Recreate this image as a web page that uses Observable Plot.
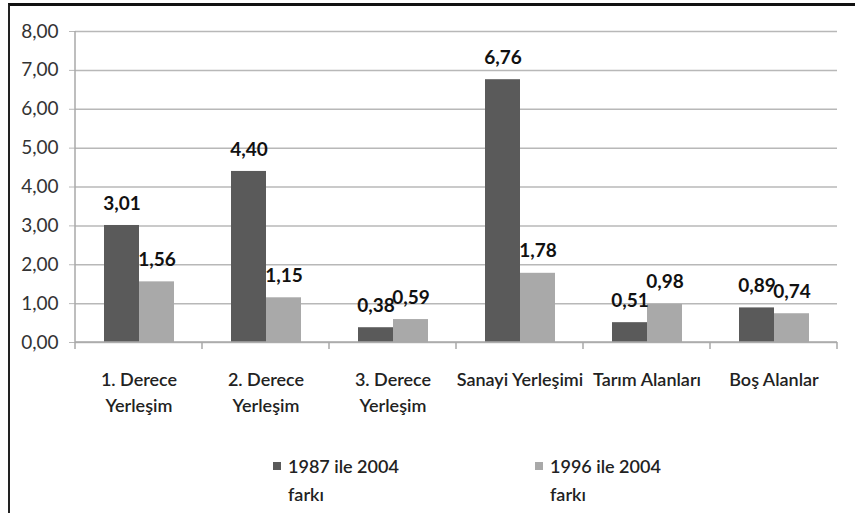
<!DOCTYPE html>
<html><head><meta charset="utf-8">
<script src="https://cdn.jsdelivr.net/npm/d3@7"></script>
<script src="https://cdn.jsdelivr.net/npm/@observablehq/plot@0.6"></script>
<style>
body{margin:0;background:#fff;font-family:Lato,sans-serif;}
#frame{position:absolute;left:8px;top:3px;width:847px;height:510px;border-top:3px solid #111;border-left:2px solid #222;box-sizing:border-box;}
#chart{position:absolute;left:0;top:0;}
.item{position:absolute;display:flex;align-items:flex-start;font-size:18px;font-weight:600;color:#222;line-height:28px;}
.sw{width:8px;height:8px;margin-top:10px;margin-right:7px;flex:none;}
.lt{width:122px;}
</style></head>
<body>
<div id="frame"><div id="chart"></div></div>
<script>
const categories = ["1. Derece\nYerleşim","2. Derece\nYerleşim","3. Derece\nYerleşim","Sanayi Yerleşimi","Tarım Alanları","Boş Alanlar"];
const series = ["1987 ile 2004 farkı","1996 ile 2004 farkı"];
const values1987 = [3.01,4.40,0.38,6.76,0.51,0.89];
const values1996 = [1.56,1.15,0.59,1.78,0.98,0.74];
const yTicks = [0,1,2,3,4,5,6,7,8];
const colors = ["#5a5a5a","#a9a9a9"];

const data = categories.flatMap((c,i)=>[
  {category:c, series:series[0], value:values1987[i]},
  {category:c, series:series[1], value:values1996[i]}
]);
const fmt = d => d.toFixed(2).replace(".", ",");

const chart = Plot.plot({
  width:845, height:430, marginLeft:62, marginRight:16, marginTop:25, marginBottom:94,
  style:{fontFamily:"Lato, sans-serif", background:"white", overflow:"visible"},
  fx:{domain:categories, padding:0, label:null},
  x:{domain:series, paddingInner:0, paddingOuter:0.78, axis:null},
  y:{domain:[0,8], label:null},
  color:{domain:series, range:colors},
  marks:[
    Plot.gridY(yTicks,{stroke:"#b8b8b8", strokeOpacity:1, strokeWidth:1.5}),
    Plot.axisY(yTicks,{tickFormat:fmt, tickSize:6, tickPadding:11, stroke:"#b8b8b8", fill:"#333", fontSize:19, label:null}),
    Plot.axisFx({anchor:"bottom", tickSize:0, tickPadding:25, fontSize:18, fontWeight:600, fill:"#222", lineHeight:1.45, label:null}),
    Plot.barY(data,{fx:"category", x:"series", y:"value", fill:"series"}),
    Plot.text(data,{fx:"category", x:"series", y:"value", text:d=>fmt(d.value), dy:-22, fontSize:19, fontWeight:"bold", fill:"#111"})
  ]
});
document.getElementById("chart").appendChild(chart);

// category boundary ticks and y axis line (Excel style)
const fx = chart.scale("fx"), ys = chart.scale("y");
const y0 = ys.apply(0), yTop = ys.apply(yTicks[yTicks.length-1]);
const bounds = categories.map(c=>fx.apply(c)).concat([fx.apply(categories[categories.length-1]) + fx.bandwidth]);
const svg = d3.select(chart);
const g = svg.append("g").attr("stroke","#a8a8a8").attr("stroke-width",1.5);
g.append("line").attr("x1",bounds[0]).attr("x2",bounds[0]).attr("y1",yTop).attr("y2",y0);
g.append("line").attr("x1",bounds[0]).attr("x2",bounds[bounds.length-1]).attr("y1",y0).attr("y2",y0);
bounds.forEach(b=>g.append("line").attr("x1",b).attr("x2",b).attr("y1",y0).attr("y2",y0+7));

// legend
const frame = document.getElementById("frame");
const legendPos = [263, 525];
series.forEach((s,i)=>{
  const it = document.createElement("div");
  it.className = "item";
  it.style.left = legendPos[i] + "px";
  it.style.top = "446px";
  it.innerHTML = `<span class="sw" style="background:${colors[i]}"></span><span class="lt">${s}</span>`;
  frame.appendChild(it);
});
</script>
</body></html>
